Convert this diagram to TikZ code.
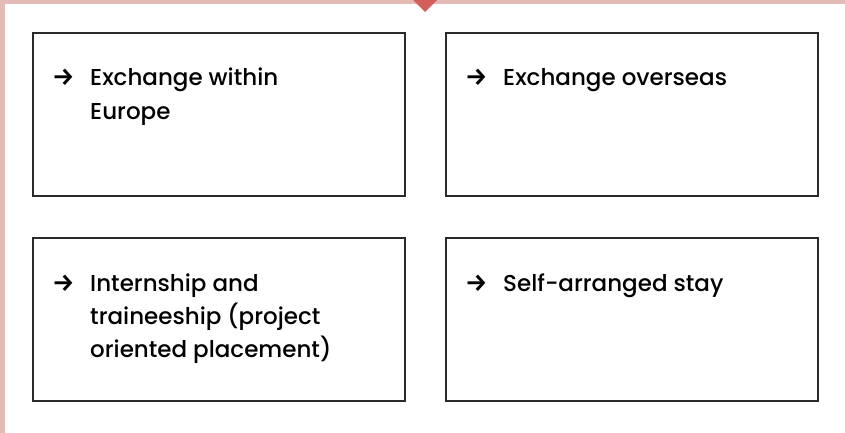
\documentclass[tikz,border=0pt]{standalone}
\usepackage{fontspec}
\setmainfont{Poppins Medium}
\newfontfamily\arrowfont{Fira Sans SemiBold}
\definecolor{barpink}{HTML}{E4BBB4}
\definecolor{trired}{HTML}{D45F5A}
\definecolor{boxline}{HTML}{2A2A2A}
\newcommand{\cardtext}[1]{\parbox[t]{320pt}{\fontsize{23}{33}\selectfont\raggedright #1}}
\begin{document}
\begin{tikzpicture}[x=1pt,y=-1pt,
  card/.style={draw=boxline,line width=1.3pt},
  lbl/.style={anchor=base west,inner sep=0pt},
  arr/.style={anchor=base west,inner sep=0pt,font=\arrowfont\fontsize{25}{26}\selectfont}]
\useasboundingbox (0,0) rectangle (845,433);
\fill[white] (0,0) rectangle (845,433);
\fill[barpink] (0,0) rectangle (845,4);
\fill[barpink] (0,0) rectangle (5,433);
\fill[trired] (413,0) -- (437,0) -- (425,12) -- cycle;
\draw[card] (33,33) rectangle (405,196);
\draw[card] (446,33) rectangle (818,196);
\draw[card] (33,238) rectangle (405,401);
\draw[card] (446,238) rectangle (818,401);
\node[arr] (a1) at (52,86) {→};
\node[lbl] (t1) at (90,86) {\cardtext{Exchange within\\Europe}};
\node[arr] (a2) at (465,86) {→};
\node[lbl] (t2) at (503,86) {\cardtext{Exchange overseas}};
\node[arr] (a3) at (52,291) {→};
\node[lbl] (t3) at (90,291) {\cardtext{Internship and\\traineeship (project\\oriented placement)}};
\node[arr] (a4) at (465,291) {→};
\node[lbl] (t4) at (503,291) {\cardtext{Self-arranged stay}};
\end{tikzpicture}
\end{document}
